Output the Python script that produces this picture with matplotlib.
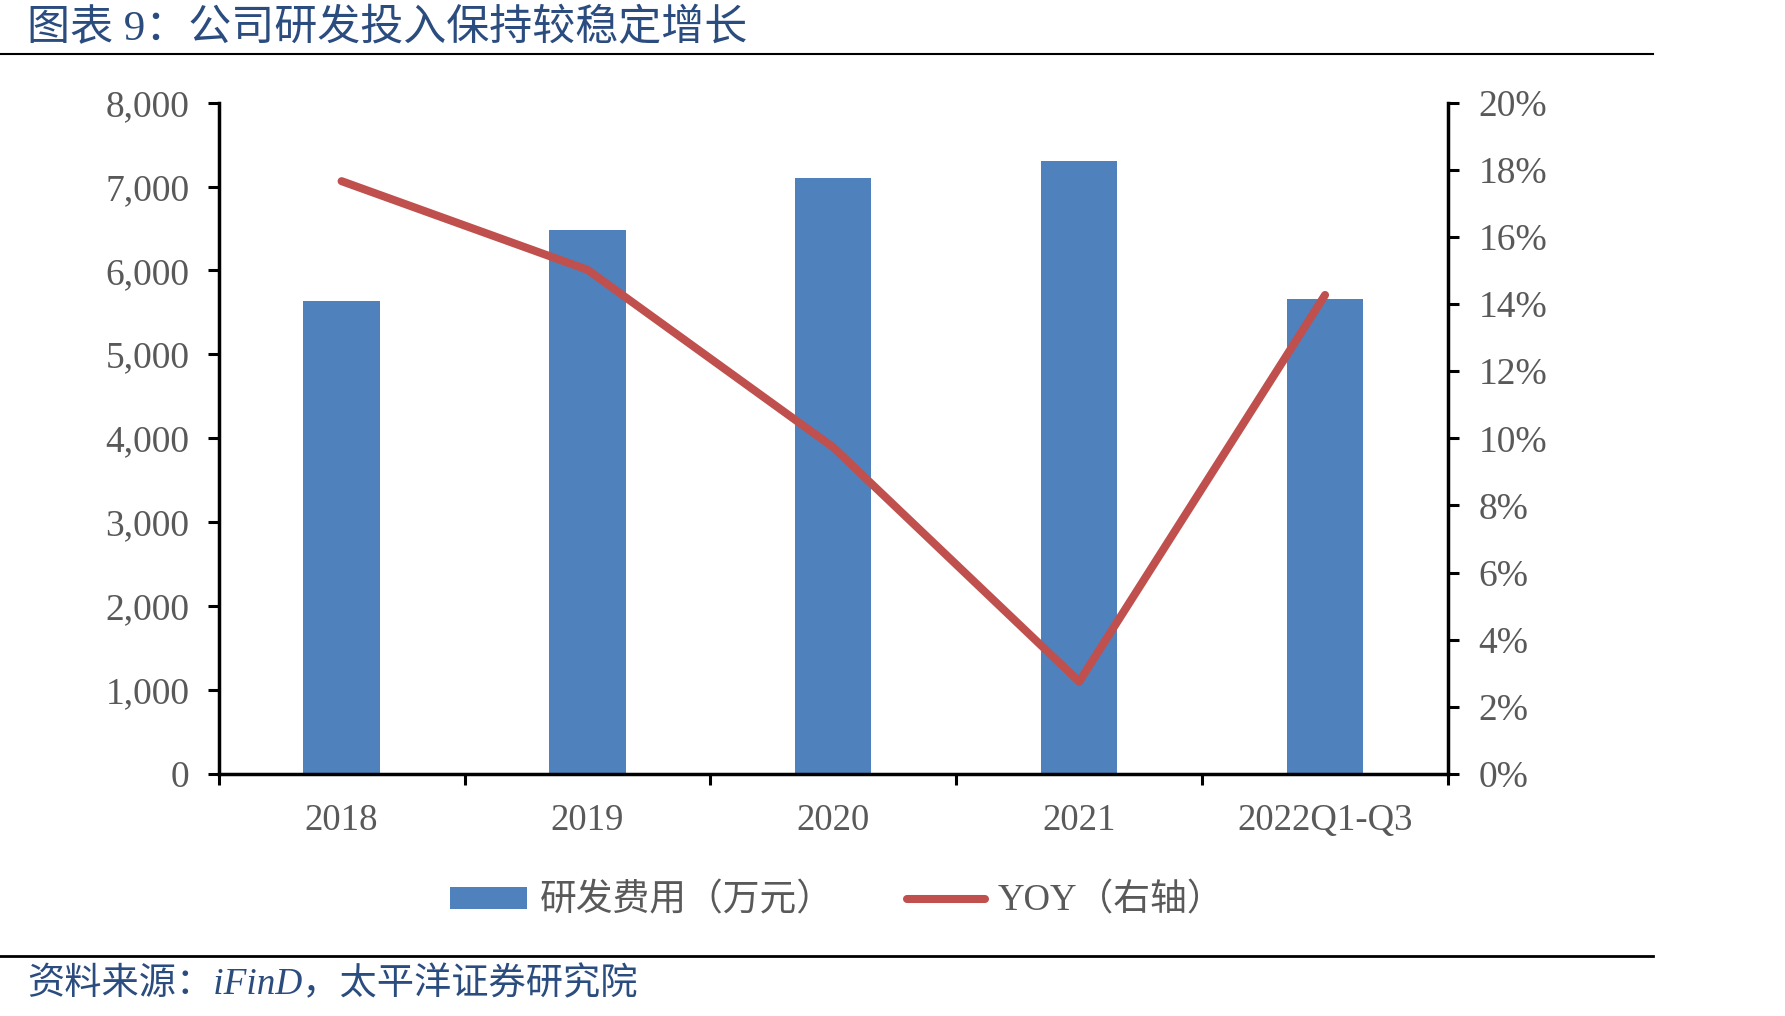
import matplotlib
matplotlib.use("Agg")
import matplotlib.pyplot as plt
from matplotlib.lines import Line2D
from matplotlib.patches import Patch
from matplotlib.ticker import FuncFormatter, MultipleLocator

categories = ["2018", "2019", "2020", "2021", "2022Q1-Q3"]
rd_expense = [5640, 6480, 7100, 7310, 5655]
yoy = [17.66, 15.02, 9.73, 2.75, 14.27]

title = "图表 9：公司研发投入保持较稳定增长"
source = "资料来源：iFinD，太平洋证券研究院"
bar_label = "研发费用（万元）"
line_label = "YOY（右轴）"

FAM = ["Liberation Serif", "Noto Sans CJK SC", "DejaVu Sans"]
plt.rcParams["font.family"] = FAM

GREY = "#595959"
BLUE = "#4F81BD"
RED = "#C0504D"
TITLE_BLUE = "#2B4C7E"

fig = plt.figure(figsize=(17.85, 10.16), dpi=100)
ax = fig.add_axes([0.1225, 0.2382, 0.6887, 0.6608])
ax2 = ax.twinx()

x = list(range(len(categories)))
ax.bar(x, rd_expense, width=0.31, color=BLUE, zorder=2)
ax2.plot(x, yoy, color=RED, linewidth=5.8, solid_capstyle="round",
         solid_joinstyle="round", zorder=3)

ax.set_xlim(-0.5, len(categories) - 0.5)
ax.set_ylim(0, 8000)
ax2.set_ylim(0, 20)
ax.yaxis.set_major_locator(MultipleLocator(1000))
ax2.yaxis.set_major_locator(MultipleLocator(2))
ax.yaxis.set_major_formatter(FuncFormatter(lambda v, p: f"{int(v):,}"))
ax2.yaxis.set_major_formatter(FuncFormatter(lambda v, p: f"{int(round(v))}%"))

# x ticks: marks at boundaries, labels at centers
ax.set_xticks([i - 0.5 for i in range(len(categories) + 1)])
ax.set_xticklabels([])
ax.set_xticks(x, minor=True)
ax.set_xticklabels(categories, minor=True)
ax.tick_params(axis="x", which="major", direction="out", length=8, width=2.2)
ax.tick_params(axis="x", which="minor", length=0, pad=21, labelsize=26.5, labelcolor=GREY)
ax.tick_params(axis="y", direction="out", length=8, width=2.2, pad=13,
               labelsize=27, labelcolor=GREY)
ax2.tick_params(axis="y", direction="out", length=8, width=2.2, pad=14,
                labelsize=27, labelcolor=GREY)

for a in (ax, ax2):
    a.spines["top"].set_visible(False)
    for s in ("left", "right", "bottom"):
        a.spines[s].set_linewidth(2.5)
        a.spines[s].set_color("black")
ax.spines["right"].set_visible(False)
ax2.spines["left"].set_visible(False)
ax2.spines["bottom"].set_visible(False)
ax.set_zorder(1)
ax2.set_zorder(2)
ax2.patch.set_visible(False)

handles = [Patch(facecolor=BLUE, edgecolor="none"),
           Line2D([0], [0], color=RED, linewidth=5.8, solid_capstyle="round")]
leg = fig.legend(handles, [bar_label, line_label], loc="center",
                 bbox_to_anchor=(0.4688, 0.113), ncol=2, frameon=False,
                 fontsize=26.5, handlelength=2.1, handleheight=0.55,
                 columnspacing=2.0, handletextpad=0.35)
for t in leg.get_texts():
    t.set_color(GREY)

# title and source
fig.text(0.015, 0.971, title, fontsize=31, color=TITLE_BLUE, va="center", ha="left")
fig.text(0.015, 0.031, source, fontsize=26.8, color=TITLE_BLUE, va="center", ha="left",
         style="italic")
fig.add_artist(Line2D([0.0, 0.926], [0.947, 0.947], color="black", linewidth=1.5,
                      transform=fig.transFigure))
fig.add_artist(Line2D([0.0, 0.926], [0.059, 0.059], color="black", linewidth=2.0,
                      transform=fig.transFigure))

fig.savefig("out.png", dpi=100, facecolor="white")
